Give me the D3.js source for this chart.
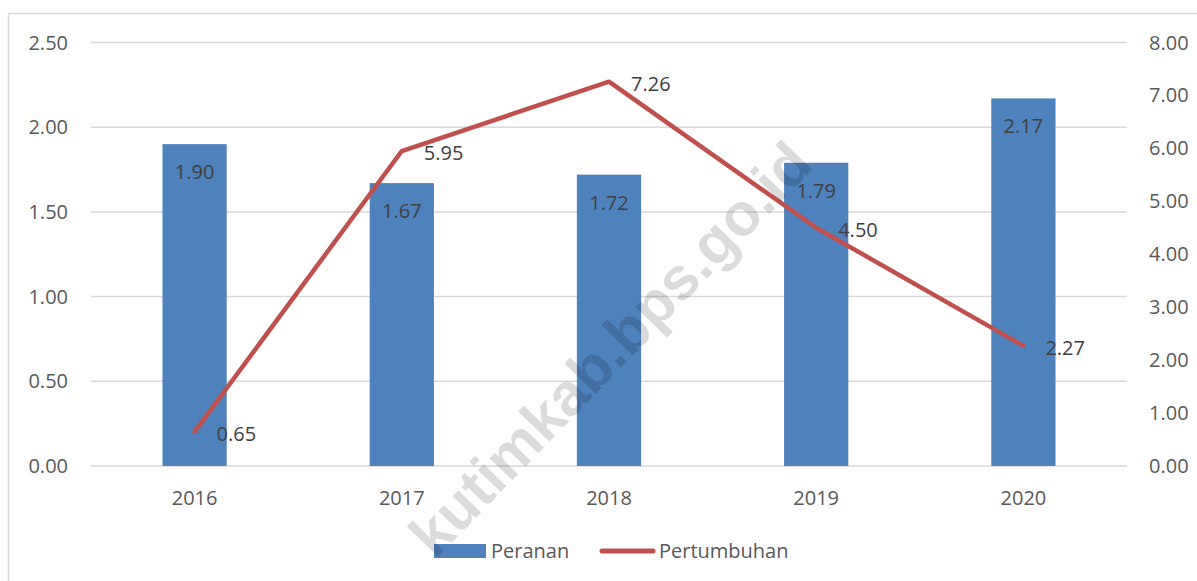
<!DOCTYPE html>
<html>
<head>
<meta charset="utf-8">
<script src="https://cdn.jsdelivr.net/npm/d3@7"></script>
<style>
  body { margin: 0; background: #fff; }
  svg text { font-family: "Open Sans", sans-serif; }
</style>
</head>
<body>
<div id="chart"></div>
<script>
// data
var years = ["2016", "2017", "2018", "2019", "2020"];
var peranan = [1.90, 1.67, 1.72, 1.79, 2.17];
var pertumbuhan = [0.65, 5.95, 7.26, 4.50, 2.27];
var leftTicks = [0, 0.5, 1, 1.5, 2, 2.5];
var rightTicks = [0, 1, 2, 3, 4, 5, 6, 7, 8];

var width = 1197, height = 581;
var plot = { left: 91, right: 1127, top: 42.5, bottom: 466 };

var svg = d3.select("#chart").append("svg")
    .attr("width", width)
    .attr("height", height);

// chart frame
svg.append("rect")
    .attr("x", 8.5).attr("y", 13.5)
    .attr("width", 1200).attr("height", 600)
    .attr("fill", "#fff")
    .attr("stroke", "#d9d9d9")
    .attr("stroke-width", 1.5);

var x = d3.scaleBand().domain(years).range([plot.left, plot.right]);
var yL = d3.scaleLinear().domain([0, 2.5]).range([plot.bottom, plot.top]);
var yR = d3.scaleLinear().domain([0, 8]).range([plot.bottom, plot.top]);
var barW = x.bandwidth() * 0.31;
var cx = function (d) { return x(d) + x.bandwidth() / 2; };

// gridlines
svg.append("g").selectAll("line")
    .data(leftTicks)
    .join("line")
    .attr("x1", plot.left).attr("x2", plot.right)
    .attr("y1", d => yL(d)).attr("y2", d => yL(d))
    .attr("stroke", "#d9d9d9")
    .attr("stroke-width", 1.5);

// left axis labels
svg.append("g").selectAll("text")
    .data(leftTicks)
    .join("text")
    .attr("x", 68)
    .attr("y", d => yL(d) + 7)
    .attr("text-anchor", "end")
    .attr("font-size", 20)
    .attr("fill", "#595959")
    .text(d => d.toFixed(2));

// right axis labels
svg.append("g").selectAll("text")
    .data(rightTicks)
    .join("text")
    .attr("x", 1149)
    .attr("y", d => yR(d) + 7)
    .attr("font-size", 20)
    .attr("fill", "#595959")
    .text(d => d.toFixed(2));

// x labels
svg.append("g").selectAll("text")
    .data(years)
    .join("text")
    .attr("x", d => cx(d))
    .attr("y", 505)
    .attr("text-anchor", "middle")
    .attr("font-size", 20)
    .attr("fill", "#595959")
    .text(d => d);

// bars
svg.append("g").selectAll("rect")
    .data(peranan)
    .join("rect")
    .attr("x", (d, i) => cx(years[i]) - barW / 2)
    .attr("y", d => yL(d))
    .attr("width", barW)
    .attr("height", d => yL(0) - yL(d))
    .attr("fill", "#4f81bd");

// line
var line = d3.line()
    .x((d, i) => cx(years[i]))
    .y(d => yR(d));

svg.append("path")
    .datum(pertumbuhan)
    .attr("d", line)
    .attr("fill", "none")
    .attr("stroke", "#c0504d")
    .attr("stroke-width", 4.5)
    .attr("stroke-linejoin", "round")
    .attr("stroke-linecap", "round");

// bar labels
svg.append("g").selectAll("text")
    .data(peranan)
    .join("text")
    .attr("x", (d, i) => cx(years[i]))
    .attr("y", d => yL(d) + 35)
    .attr("text-anchor", "middle")
    .attr("font-size", 20)
    .attr("fill", "#404040")
    .text(d => d.toFixed(2));

// line labels
svg.append("g").selectAll("text")
    .data(pertumbuhan)
    .join("text")
    .attr("x", (d, i) => cx(years[i]) + 22)
    .attr("y", d => yR(d) + 9)
    .attr("font-size", 20)
    .attr("fill", "#404040")
    .text(d => d.toFixed(2));

// legend
var lg = svg.append("g");
lg.append("rect")
    .attr("x", 434).attr("y", 544)
    .attr("width", 52).attr("height", 14)
    .attr("fill", "#4f81bd");
lg.append("text")
    .attr("x", 491).attr("y", 558)
    .attr("font-size", 20).attr("fill", "#595959")
    .text("Peranan");
lg.append("line")
    .attr("x1", 602).attr("x2", 653)
    .attr("y1", 551).attr("y2", 551)
    .attr("stroke", "#c0504d")
    .attr("stroke-width", 5)
    .attr("stroke-linecap", "round");
lg.append("text")
    .attr("x", 659).attr("y", 558)
    .attr("font-size", 20).attr("fill", "#595959")
    .text("Pertumbuhan");

// watermark
svg.append("text")
    .attr("transform", "translate(800,152) rotate(-46)")
    .attr("text-anchor", "end")
    .attr("dy", "0.35em")
    .style("font-family", "'Liberation Sans', Arial, sans-serif")
    .attr("font-weight", "bold")
    .attr("font-size", 60)
    .attr("fill", "#000")
    .attr("fill-opacity", 0.14)
    .text("kutimkab.bps.go.id");
</script>
</body>
</html>
